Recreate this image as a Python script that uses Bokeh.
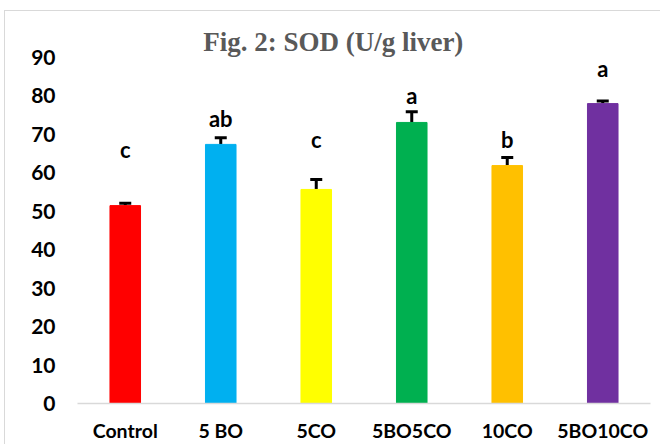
from bokeh.plotting import figure
from bokeh.models import ColumnDataSource, Range1d, FactorRange, FixedTicker, Whisker, TeeHead
from bokeh.core.properties import value
from bokeh.embed import file_html
from bokeh.resources import INLINE

categories = ["Control", "5 BO", "5CO", "5BO5CO", "10CO", "5BO10CO"]
sod_values = [51.4, 67.3, 55.6, 73.0, 61.8, 77.9]
sod_errors = [0.6, 1.7, 2.6, 2.8, 2.1, 0.7]
letters = ["c", "ab", "c", "a", "b", "a"]
letter_y = [66.1, 73.9, 68.7, 80.0, 68.7, 87.0]
colors = ["#FF0000", "#00B0F0", "#FFFF00", "#00B050", "#FFC000", "#7030A0"]
y_ticks = [0, 10, 20, 30, 40, 50, 60, 70, 80, 90]
title_text = "Fig. 2: SOD (U/g liver)"

src = ColumnDataSource(dict(
    cat=categories, val=sod_values, err=sod_errors, color=colors,
    upper=[v + e for v, e in zip(sod_values, sod_errors)],
    letter=letters, ly=letter_y,
))

p = figure(width=656, height=434, x_range=FactorRange(*categories, range_padding=0),
           y_range=Range1d(0, 100), output_backend="svg", toolbar_location=None,
           min_border_left=72, min_border_right=11, min_border_top=7, min_border_bottom=42)
p.styles = {"margin-left": "4px", "margin-top": "10px",
            "border-left": "1px solid #D9D9D9", "border-top": "1px solid #D9D9D9"}
p.outline_line_color = None
p.xgrid.grid_line_color = None
p.ygrid.grid_line_color = None
p.background_fill_color = "white"
p.border_fill_color = "white"

p.vbar(x="cat", top="val", width=0.32, color="color", source=src)

wh = Whisker(base="cat", lower="val", upper="upper", source=src,
             line_width=3, line_color="black",
             upper_head=TeeHead(size=12, line_width=3, line_color="black"),
             lower_head=None)
p.add_layout(wh)

p.text(x="cat", y="ly", text="letter", source=src, text_align="center",
       text_baseline="alphabetic", text_font=value("Lato"), text_font_style="bold",
       text_font_size="22px", text_color="black")

p.text(x=[categories[2]], y=[93.8], text=[title_text], x_offset=17,
       text_align="center", text_baseline="middle",
       text_font=value("Liberation Serif"), text_font_style="bold",
       text_font_size="27px", text_color="#595959")

p.yaxis.ticker = FixedTicker(ticks=y_ticks)
p.yaxis.axis_line_color = None
p.yaxis.major_tick_line_color = None
p.yaxis.minor_tick_line_color = None
p.yaxis.major_tick_out = 0
p.yaxis.major_label_standoff = 22
p.yaxis.major_label_text_font = "Lato"
p.yaxis.major_label_text_font_style = "bold"
p.yaxis.major_label_text_font_size = "21px"
p.yaxis.major_label_text_color = "black"

p.xaxis.axis_line_color = "#D9D9D9"
p.xaxis.axis_line_width = 1.5
p.xaxis.major_tick_line_color = None
p.xaxis.minor_tick_line_color = None
p.xaxis.major_tick_out = 0
p.xaxis.major_label_standoff = 15
p.xaxis.major_label_text_font = "Lato"
p.xaxis.major_label_text_font_style = "bold"
p.xaxis.major_label_text_font_size = "19.5px"
p.xaxis.major_label_text_color = "black"

open("out.html", "w").write(file_html(p, INLINE))
